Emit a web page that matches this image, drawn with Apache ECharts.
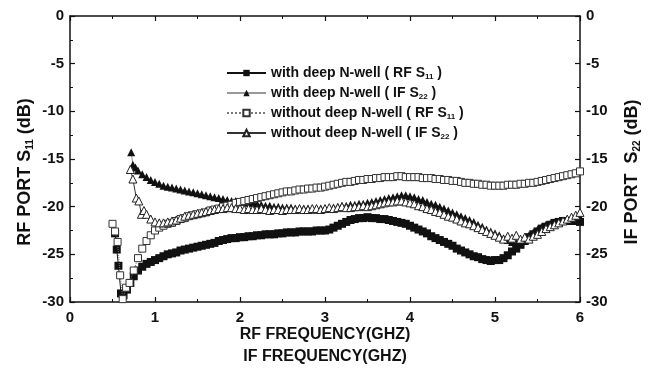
<!DOCTYPE html>
<html><head><meta charset="utf-8">
<script src="https://cdn.jsdelivr.net/npm/echarts@6/dist/echarts.min.js"></script>
<style>html,body{margin:0;padding:0;background:#fff}#c{width:652px;height:375px}</style>
</head><body><div id="c"></div>
<script>
// Common frequency grid (GHz) from 0.9 to 6.0
const freq = [0.9,0.95,1.0,1.05,1.1,1.15,1.2,1.25,1.3,1.35,1.4,1.45,1.5,1.55,1.6,1.65,1.7,1.75,1.8,1.85,1.9,1.95,
2.0,2.05,2.1,2.15,2.2,2.25,2.3,2.35,2.4,2.45,2.5,2.55,2.6,2.65,2.7,2.75,2.8,2.85,2.9,2.95,
3.0,3.05,3.1,3.15,3.2,3.25,3.3,3.35,3.4,3.45,3.5,3.55,3.6,3.65,3.7,3.75,3.8,3.85,3.9,3.95,
4.0,4.05,4.1,4.15,4.2,4.25,4.3,4.35,4.4,4.45,4.5,4.55,4.6,4.65,4.7,4.75,4.8,4.85,4.9,4.95,
5.0,5.05,5.1,5.15,5.2,5.25,5.3,5.35,5.4,5.45,5.5,5.55,5.6,5.65,5.7,5.75,5.8,5.85,5.9,5.95,6.0];

// low-frequency leading points of each series
const headFreqA = [0.53,0.55,0.57,0.6,0.63,0.67,0.71,0.75,0.8,0.85];
const headValA  = [-22.8,-24.5,-26.2,-29.1,-29.3,-28.7,-28.0,-27.3,-26.7,-26.3];
const headFreqB = [0.72,0.74,0.77,0.8,0.85];
const headValB  = [-14.3,-15.6,-15.9,-16.2,-16.6];
const headFreqC = [0.5,0.53,0.56,0.59,0.62,0.66,0.7,0.75,0.8,0.85];
const headValC  = [-21.8,-22.6,-23.7,-27.2,-29.7,-28.5,-28.0,-26.7,-25.4,-24.4];
const headFreqD = [0.71,0.74,0.78,0.81,0.84,0.87];
const headValD  = [-16.1,-17.1,-19.1,-19.4,-20.8,-20.4];

// with deep N-well (RF S11)
const withRF = [-26.0,-25.8,-25.6,-25.4,-25.2,-25.0,-24.9,-24.8,-24.6,-24.5,-24.4,-24.3,-24.2,-24.1,-24.0,-23.9,-23.8,-23.6,-23.5,-23.4,-23.3,-23.3,
-23.2,-23.2,-23.1,-23.1,-23.0,-23.0,-22.9,-22.9,-22.9,-22.8,-22.8,-22.7,-22.7,-22.7,-22.6,-22.6,-22.6,-22.6,-22.5,-22.5,
-22.5,-22.4,-22.2,-22.0,-21.8,-21.6,-21.4,-21.3,-21.2,-21.2,-21.1,-21.2,-21.2,-21.3,-21.3,-21.4,-21.5,-21.6,-21.7,-21.8,
-22.0,-22.2,-22.4,-22.6,-22.8,-23.1,-23.3,-23.5,-23.7,-23.9,-24.1,-24.4,-24.6,-24.8,-25.0,-25.2,-25.3,-25.5,-25.6,-25.7,
-25.6,-25.6,-25.4,-25.1,-24.7,-24.4,-24.0,-23.6,-23.2,-22.9,-22.6,-22.3,-22.1,-21.9,-21.7,-21.6,-21.5,-21.5,-21.5,-21.5,-21.6];
// with deep N-well (IF S22)
const withIF = [-16.9,-17.2,-17.4,-17.6,-17.8,-17.9,-18.0,-18.1,-18.2,-18.3,-18.4,-18.5,-18.6,-18.7,-18.8,-18.9,-19.0,-19.1,-19.2,-19.3,-19.4,-19.4,
-19.5,-19.5,-19.6,-19.6,-19.7,-19.8,-19.9,-19.9,-20.0,-20.0,-20.1,-20.1,-20.1,-20.2,-20.2,-20.2,-20.2,-20.3,-20.3,-20.2,
-20.2,-20.2,-20.1,-20.0,-19.9,-19.9,-19.8,-19.8,-19.7,-19.7,-19.6,-19.5,-19.4,-19.3,-19.2,-19.1,-19.0,-18.9,-18.8,-18.8,
-18.9,-19.0,-19.2,-19.3,-19.5,-19.7,-19.8,-20.0,-20.2,-20.4,-20.6,-20.8,-21.0,-21.2,-21.4,-21.6,-21.9,-22.1,-22.4,-22.6,
-22.8,-23.0,-23.3,-23.5,-23.7,-23.8,-23.7,-23.4,-23.0,-22.7,-22.4,-22.1,-21.9,-21.8,-21.7,-21.6,-21.5,-21.4,-21.3,-21.2,-21.1];
// without deep N-well (RF S11)
const withoutRF = [-23.6,-23.0,-22.5,-22.2,-22.0,-21.8,-21.7,-21.5,-21.3,-21.2,-21.0,-20.9,-20.8,-20.7,-20.6,-20.4,-20.3,-20.2,-20.0,-19.9,-19.8,-19.6,
-19.5,-19.4,-19.3,-19.2,-19.1,-19.0,-18.9,-18.8,-18.7,-18.6,-18.5,-18.4,-18.4,-18.3,-18.2,-18.2,-18.1,-18.1,-18.0,-18.0,
-17.9,-17.8,-17.7,-17.6,-17.5,-17.4,-17.4,-17.3,-17.2,-17.2,-17.1,-17.1,-17.0,-17.0,-16.9,-16.9,-16.9,-16.8,-16.8,-16.9,
-16.9,-16.9,-16.9,-17.0,-17.0,-17.0,-17.1,-17.1,-17.2,-17.2,-17.3,-17.3,-17.4,-17.5,-17.5,-17.6,-17.6,-17.7,-17.7,-17.8,
-17.8,-17.8,-17.8,-17.7,-17.7,-17.7,-17.6,-17.6,-17.5,-17.5,-17.4,-17.3,-17.2,-17.1,-17.0,-16.9,-16.8,-16.7,-16.6,-16.5,-16.3];
// without deep N-well (IF S22)
const withoutIF = [-20.8,-21.3,-21.6,-21.7,-21.7,-21.6,-21.5,-21.4,-21.2,-21.0,-20.9,-20.8,-20.7,-20.6,-20.5,-20.4,-20.3,-20.2,-20.2,-20.1,-20.1,-20.2,
-20.2,-20.3,-20.2,-20.3,-20.3,-20.2,-20.3,-20.4,-20.3,-20.3,-20.4,-20.3,-20.3,-20.3,-20.2,-20.3,-20.3,-20.2,-20.2,-20.3,
-20.2,-20.1,-20.2,-20.1,-20.0,-20.1,-20.1,-20.0,-20.0,-19.9,-20.0,-19.9,-19.8,-19.7,-19.6,-19.5,-19.5,-19.4,-19.4,-19.5,
-19.6,-19.7,-19.9,-20.0,-20.2,-20.3,-20.5,-20.6,-20.8,-21.0,-21.1,-21.3,-21.5,-21.7,-21.8,-22.0,-22.2,-22.4,-22.6,-22.8,
-23.0,-23.2,-23.4,-23.1,-23.3,-23.0,-23.4,-23.2,-23.4,-23.1,-22.9,-22.6,-22.3,-22.1,-21.9,-21.7,-21.5,-21.3,-21.1,-20.9,-20.6];

const xTicks = [0,1,2,3,4,5,6];
const yTicks = [-30,-25,-20,-15,-10,-5,0];

const legendNames = [
  '{a|with deep N-well ( RF S}{s|11}{a| )}',
  '{a|with deep N-well ( IF S}{s|22}{a| )}',
  '{a|without deep N-well ( RF S}{s|11}{a| )}',
  '{a|without deep N-well ( IF S}{s|22}{a| )}'
];
const seriesKeys = ['s1','s2','s3','s4'];

function pairs(hf, hv, vals){
  const out = hf.map((f,i)=>[f,hv[i]]);
  freq.forEach((f,i)=>out.push([f,vals[i]]));
  return out;
}

const chart = echarts.init(document.getElementById('c'), null, {renderer:'canvas'});
const FONT = '"Liberation Sans", Arial, sans-serif';
const axisLbl = {fontFamily:FONT, fontWeight:'bold', fontSize:15, color:'#111'};
function yAxis(pos, nameTxt){
  return {
    type:'value', position:pos, min:-30, max:0, interval:5,
    axisLine:{show:true, onZero:false, lineStyle:{color:'#111', width:1.5}},
    axisTick:{show:true, inside:true, length:5, lineStyle:{color:'#111', width:1.2}},
    minorTick:{show:true, splitNumber:2, length:3, lineStyle:{color:'#111', width:1}},
    splitLine:{show:false},
    axisLabel:Object.assign({margin:6, formatter:v=>yTicks.includes(v)?String(v):''}, axisLbl),
    name:nameTxt, nameLocation:'middle', nameRotate:90, nameMoveOverlap:false,
    nameGap: pos==='left'?35:42,
    nameTextStyle:{fontFamily:FONT, fontWeight:'bold', fontSize:18, color:'#111', padding:[0,26,0,0],
      rich:{a:{fontFamily:FONT, fontWeight:'bold', fontSize:18, color:'#111'},
            s:{fontFamily:FONT, fontWeight:'bold', fontSize:10, color:'#111', padding:[10,0,0,0]}}}
  };
}
const option = {
  animation:false,
  backgroundColor:'#fff',
  grid:{left:70, right:72, top:16, bottom:73, containLabel:false},
  legend:{
    orient:'vertical', left:221, top:61, itemGap:5, itemWidth:39, itemHeight:8,
    data: seriesKeys,
    formatter: n => legendNames[seriesKeys.indexOf(n)],
    textStyle:{fontFamily:FONT, fontWeight:'bold', fontSize:14, color:'#111',
      rich:{a:{fontFamily:FONT, fontWeight:'bold', fontSize:14, color:'#111'},
            s:{fontFamily:FONT, fontWeight:'bold', fontSize:8, color:'#111', padding:[8,0,0,0]}}}
  },
  xAxis:[
    {type:'value', min:0, max:6, interval:1, position:'bottom',
     axisLine:{show:true, onZero:false, lineStyle:{color:'#111', width:1.5}},
     axisTick:{show:true, inside:true, length:5, lineStyle:{color:'#111', width:1.2}},
     minorTick:{show:true, splitNumber:2, length:3, lineStyle:{color:'#111', width:1}},
     splitLine:{show:false},
     axisLabel:Object.assign({margin:8, formatter:v=>xTicks.includes(v)?String(v):''}, axisLbl),
     name:'RF FREQUENCY(GHZ)\nIF FREQUENCY(GHZ)', nameLocation:'middle', nameGap:22, nameMoveOverlap:false,
     nameTextStyle:{fontFamily:FONT, fontWeight:'bold', fontSize:16, color:'#111', lineHeight:22, verticalAlign:'top'}
    },
    {type:'value', min:0, max:6, interval:1, position:'top',
     axisLine:{show:true, onZero:false, lineStyle:{color:'#111', width:1.5}},
     axisTick:{show:true, inside:true, length:5, lineStyle:{color:'#111', width:1.2}},
     minorTick:{show:true, splitNumber:2, length:3, lineStyle:{color:'#111', width:1}},
     splitLine:{show:false}, axisLabel:{show:false}}
  ],
  yAxis:[
    yAxis('left', '{a|RF PORT S}{s|11}{a| (dB)}'),
    yAxis('right', '{a|IF PORT  S}{s|22}{a| (dB)}')
  ],
  series:[
    {name:'s1', type:'line', data:pairs(headFreqA, headValA, withRF), symbol:'rect', symbolSize:8,
     lineStyle:{color:'#111', width:1}, itemStyle:{color:'#111'}, z:2},
    {name:'s2', type:'line', data:pairs(headFreqB, headValB, withIF), symbol:'triangle', symbolSize:8,
     lineStyle:{color:'#999', width:1}, itemStyle:{color:'#111'}, z:2},
    {name:'s3', type:'line', data:pairs(headFreqC, headValC, withoutRF), symbol:'rect', symbolSize:7,
     lineStyle:{color:'#777', width:1, type:'dotted'}, itemStyle:{color:'#fff', borderColor:'#333', borderWidth:1}, z:3},
    {name:'s4', type:'line', data:pairs(headFreqD, headValD, withoutIF), symbol:'triangle', symbolSize:8,
     lineStyle:{color:'#333', width:1}, itemStyle:{color:'#fff', borderColor:'#222', borderWidth:1}, z:3}
  ]
};
chart.setOption(option);
</script>
</body></html>
